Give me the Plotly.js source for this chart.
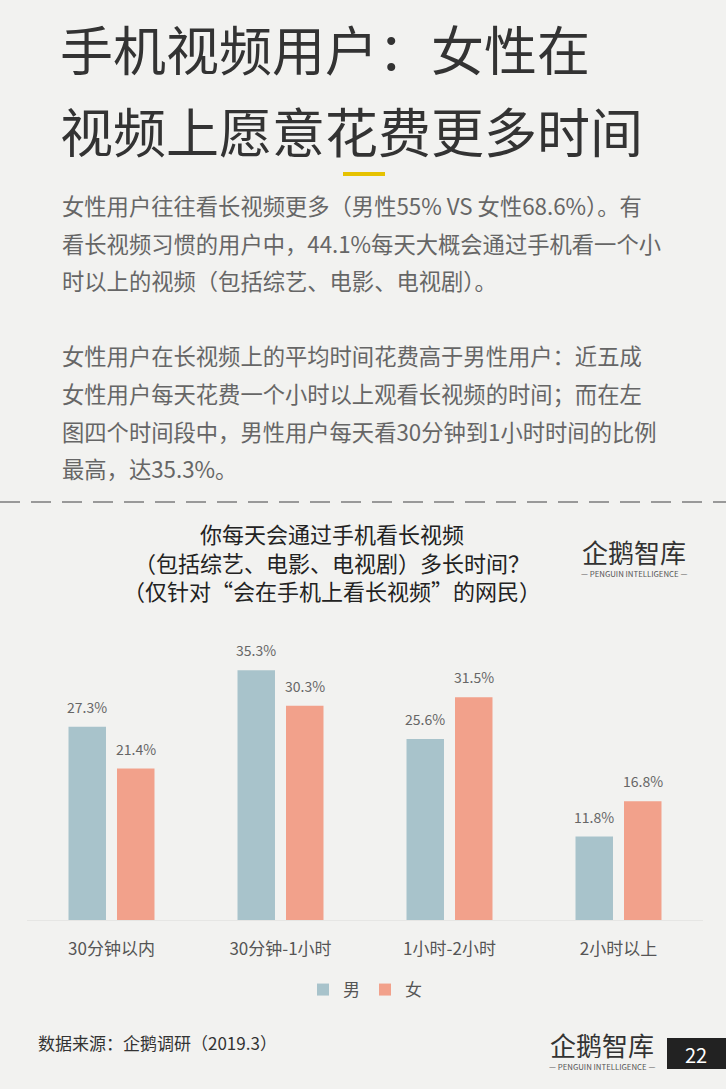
<!DOCTYPE html>
<html>
<head>
<meta charset="utf-8">
<script src="https://cdn.plot.ly/plotly-3.0.1.min.js"></script>
<style>
  html, body { margin: 0; padding: 0; background: #f2f2f0; }
  #chart { width: 726px; height: 1089px; }
</style>
</head>
<body>
<div id="chart"></div>
<script>
// 数据
const categories = ['30分钟以内', '30分钟-1小时', '1小时-2小时', '2小时以上'];
const male = [27.3, 35.3, 25.6, 11.8];
const female = [21.4, 30.3, 31.5, 16.8];
const seriesNames = ['男', '女'];

const headline = ['手机视频用户：女性在', '视频上愿意花费更多时间'];
const paragraph = [
    '女性用户往往看长视频更多（男性55% VS 女性68.6%）。有',
    '看长视频习惯的用户中，44.1%每天大概会通过手机看一个小',
    '时以上的视频（包括综艺、电影、电视剧）。',
    '',
    '女性用户在长视频上的平均时间花费高于男性用户：近五成',
    '女性用户每天花费一个小时以上观看长视频的时间；而在左',
    '图四个时间段中，男性用户每天看30分钟到1小时时间的比例',
    '最高，达35.3%。'
];
const chartTitle = [
    '你每天会通过手机看长视频',
    '（包括综艺、电影、电视剧）多长时间？',
    '（仅针对“会在手机上看长视频”的网民）'
];
const source = '数据来源：企鹅调研（2019.3）';
const pageNo = '22';

const W = 726, H = 1089;
const mL = 27, mR = 23, mT = 637, mB = 169;
const plotW = W - mL - mR, plotH = H - mT - mB;

// 像素 -> paper 坐标
const px = x => (x - mL) / plotW;
const py = y => (H - mB - y) / plotH;

const FONT = '"Noto Sans CJK SC", "Noto Sans", sans-serif';
const maleColor = '#a8c3cb';
const femaleColor = '#f2a18b';

const traces = [
    { type: 'bar', name: seriesNames[0], x: categories, y: male,
      marker: { color: maleColor }, hoverinfo: 'skip' },
    { type: 'bar', name: seriesNames[1], x: categories, y: female,
      marker: { color: femaleColor }, hoverinfo: 'skip' }
];

const annotations = [];
function addText(text, x, y, size, color, xanchor, extra) {
    annotations.push(Object.assign({
        text: text, xref: 'paper', yref: 'paper', x: px(x), y: py(y),
        xanchor: xanchor || 'left', yanchor: 'middle', showarrow: false,
        font: { family: FONT, size: size, color: color }
    }, extra || {}));
}

// 标题
headline.forEach((t, i) => addText(t, 58, 48 + i * 82, 53, '#333333'));
// 正文
paragraph.forEach((t, i) => { if (t) addText(t, 60, 205 + i * 37.6, 22.3, '#666666'); });
// 图表标题（一个多行文本）
addText(chartTitle.join('<br>'), 332, 561, 22, '#222222', 'center', { align: 'center' });

// 数值标签
male.forEach((v, i) => annotations.push({
    x: categories[i], y: v, xref: 'x', yref: 'y', xshift: -24.25, yshift: 8,
    text: v.toFixed(1) + '%', showarrow: false, yanchor: 'bottom',
    font: { family: FONT, size: 14, color: '#666666' }
}));
female.forEach((v, i) => annotations.push({
    x: categories[i], y: v, xref: 'x', yref: 'y', xshift: 24.25, yshift: 8,
    text: v.toFixed(1) + '%', showarrow: false, yanchor: 'bottom',
    font: { family: FONT, size: 14, color: '#666666' }
}));

// 来源与页脚
addText(source, 36, 1042, 17, '#333333');
addText(pageNo, 696, 1054, 20, '#ffffff', 'center');

// 企鹅智库标志
function logo(cx, cy, size) {
    addText('企鹅智库', cx, cy, size, '#333333', 'center');
    addText('— PENGUIN INTELLIGENCE —', cx, cy + size * 0.85, size * 0.3, '#555555', 'center');
}
logo(634, 551, 26);
logo(602, 1044, 26);

const shapes = [
    // 黄色短线
    { type: 'rect', xref: 'paper', yref: 'paper', x0: px(343), x1: px(385),
      y0: py(172), y1: py(176), fillcolor: '#e6c200', line: { width: 0 } },
    // 虚线
    { type: 'line', xref: 'paper', yref: 'paper', x0: px(0), x1: px(726),
      y0: py(502), y1: py(502), line: { color: '#999999', width: 2, dash: '20px,11px' } },
    // 页码底色
    { type: 'rect', xref: 'paper', yref: 'paper', x0: px(667), x1: px(726),
      y0: py(1038), y1: py(1069), fillcolor: '#222222', line: { width: 0 } }
];

const layout = {
    width: W, height: H,
    margin: { l: mL, r: mR, t: mT, b: mB },
    paper_bgcolor: '#f2f2f0',
    plot_bgcolor: '#f2f2f0',
    barmode: 'group',
    bargap: 0.426,
    bargroupgap: 0.227,
    font: { family: FONT, color: '#555555' },
    xaxis: {
        showgrid: false, zeroline: false, showline: true, linecolor: '#e6e6e4', linewidth: 1,
        ticks: '', ticklabelstandoff: 14,
        tickfont: { family: FONT, size: 17, color: '#555555' }
    },
    yaxis: { range: [0, 40], visible: false, fixedrange: true },
    showlegend: true,
    legend: {
        orientation: 'h', x: 0.5, xanchor: 'center', y: py(990), yanchor: 'middle',
        font: { family: FONT, size: 17, color: '#555555' },
        itemwidth: 30, bgcolor: 'rgba(0,0,0,0)'
    },
    annotations: annotations,
    shapes: shapes
};

Plotly.newPlot('chart', traces, layout, { displayModeBar: false, staticPlot: true });
</script>
</body>
</html>
